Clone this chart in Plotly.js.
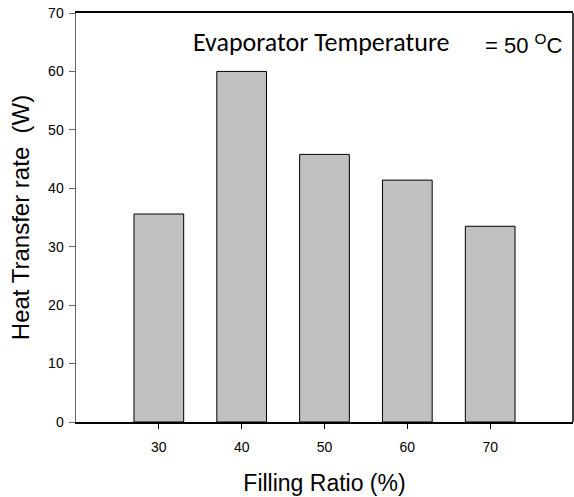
<!DOCTYPE html>
<html>
<head>
<meta charset="utf-8">
<script src="https://cdn.plot.ly/plotly-3.0.1.min.js"></script>
<style>html,body{margin:0;padding:0;background:#fff;}#chart{width:574px;height:497px;}</style>
</head>
<body>
<div id="chart"></div>
<script>
var fillingRatio = [30, 40, 50, 60, 70];
var heatTransfer = [35.6, 60.0, 45.8, 41.4, 33.5];
var yTicks = [0, 10, 20, 30, 40, 50, 60, 70];
var xTicks = [30, 40, 50, 60, 70];

var ARIAL = 'Arial, "Liberation Sans", sans-serif';
var NARROW = '"Liberation Sans Narrow", "Arial Narrow", Arial, "Liberation Sans", sans-serif';
var CALIBRI = 'Carlito, Calibri, "Open Sans", sans-serif';

var trace = {
  type: 'bar',
  x: fillingRatio,
  y: heatTransfer,
  width: 6,
  marker: {color: '#c0c0c0', line: {color: '#000', width: 1}},
  hoverinfo: 'none'
};

var layout = {
  width: 574, height: 497,
  margin: {l: 76, r: 1, t: 13, b: 75},
  paper_bgcolor: '#fff', plot_bgcolor: '#fff',
  showlegend: false,
  font: {family: ARIAL, color: '#000'},
  xaxis: {
    range: [20, 80], tickvals: xTicks, ticktext: xTicks.map(String),
    showgrid: false, zeroline: false,
    showline: true, linecolor: '#000', linewidth: 2, mirror: true,
    ticks: 'outside', ticklen: 5, tickwidth: 1, tickcolor: '#000',
    ticklabelstandoff: 6,
    tickfont: {size: 14, family: NARROW},
    title: {text: 'Filling Ratio (%)', font: {size: 23, family: ARIAL}, standoff: 21}
  },
  yaxis: {
    range: [0, 70], tickvals: yTicks, ticktext: yTicks.map(String),
    showgrid: false, zeroline: false,
    showline: true, linecolor: '#666', linewidth: 1.5,
    ticks: 'outside', ticklen: 6, tickwidth: 1, tickcolor: '#666',
    ticklabelstandoff: 2,
    tickfont: {size: 14, family: NARROW},
    title: {text: 'Heat Transfer rate  (W)', font: {size: 24, family: ARIAL}, standoff: 11}
  },
  shapes: [
    {type: 'line', xref: 'paper', yref: 'paper', x0: 1, x1: 1, y0: 0, y1: 1, line: {color: '#000', width: 1.5}}
  ],
  annotations: [
    {xref: 'paper', yref: 'paper', x: 0.231, y: 0.928, xanchor: 'left', yanchor: 'middle', showarrow: false,
     text: 'Evaporator Temperature', font: {size: 26, family: CALIBRI, color: '#000'}},
    {xref: 'paper', yref: 'paper', x: 0.983, y: 0.925, xanchor: 'right', yanchor: 'middle', showarrow: false,
     text: '= 50 <sup>O</sup>C', font: {size: 22, family: ARIAL, color: '#000'}}
  ]
};

Plotly.newPlot('chart', [trace], layout, {staticPlot: true, displayModeBar: false});
</script>
</body>
</html>
